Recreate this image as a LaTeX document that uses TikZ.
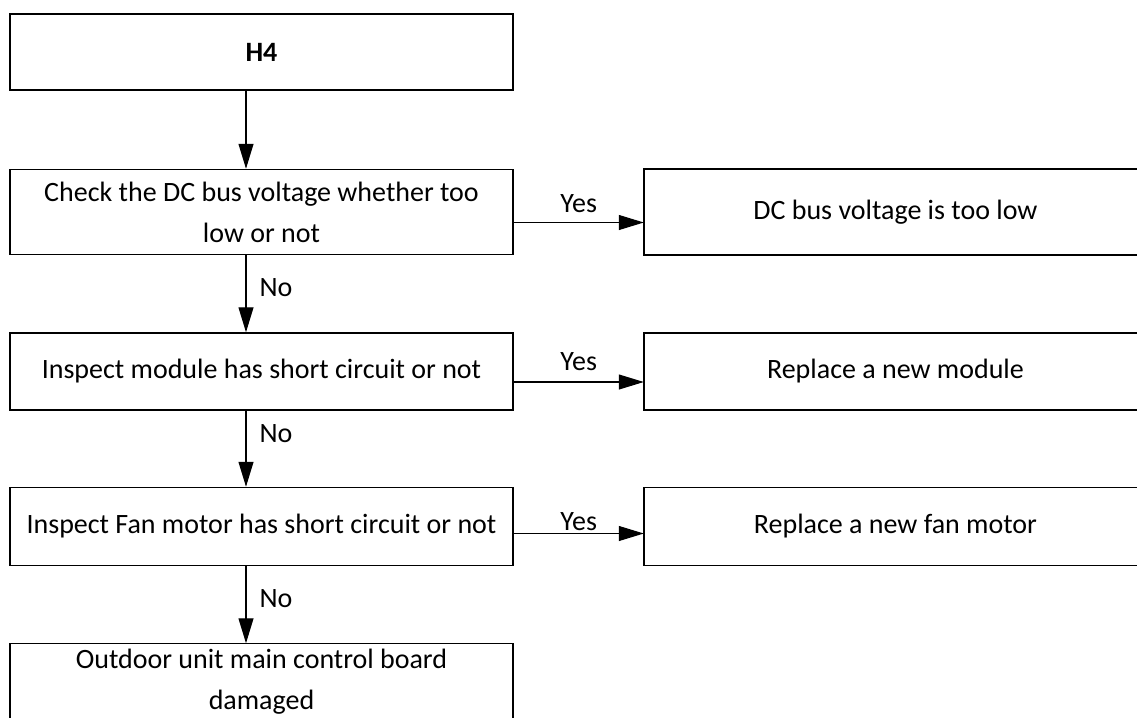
\documentclass[tikz,border=0pt]{standalone}
\usepackage{fontspec}
\setmainfont{Carlito}
\usetikzlibrary{positioning,arrows.meta}

\begin{document}
\begin{tikzpicture}[
	x=1pt, y=-1pt,
	node distance=77pt and 130pt,
	every node/.style={font=\fontsize{28}{41}\selectfont, inner sep=0pt},
	box/.style={draw, line width=1.5pt, minimum width=503pt, align=center},
	obox/.style={minimum width=503pt, align=center},
	arrow/.style={-{Triangle[length=25pt,width=15pt]}, line width=1.1pt},
	lbl/.style={inner sep=0pt}
	]
	\useasboundingbox (0,0) rectangle (1137,717);
	\clip (0,0) rectangle (1137,717);
	
	\node[box, minimum height=76pt] (H4) at (261.5,52) {\textbf{H4}};
	\node[box, minimum height=85pt, below=78pt of H4] (B2) {Check the DC bus voltage whether too\\low or not};
	\node[box, minimum height=77pt, below=of B2] (B3) {Inspect module has short circuit or not};
	\node[box, minimum height=78pt, below=76pt of B3] (B4) {Inspect Fan motor has short circuit or not};
	\node[obox, minimum height=76pt, below=of B4] (B5) {Outdoor unit main control board\\damaged};
	
	\node[obox, minimum height=86pt, right=of B2] (R1) {DC bus voltage is too low};
	\node[obox, minimum height=77pt, right=of B3] (R2) {Replace a new module};
	\node[obox, minimum height=78pt, right=of B4] (R3) {Replace a new fan motor};
	
	% open boxes, cut by the page edge
	\foreach \r in {R1,R2,R3}
		\draw[line width=1.5pt] ([xshift=40pt]\r.north east) -- (\r.north west) -- (\r.south west) -- ([xshift=40pt]\r.south east);
	\draw[line width=1.5pt] ([yshift=-20pt]B5.south west) -- (B5.north west) -- (B5.north east) -- ([yshift=-20pt]B5.south east);
	
	% down the left column
	\draw[arrow] ([xshift=-15.5pt]H4.south) -- ([xshift=-15.5pt]B2.north);
	\draw[arrow] ([xshift=-15.5pt]B2.south) -- node[lbl, pos=0.42, right=13pt] {No} ([xshift=-15.5pt]B3.north);
	\draw[arrow] ([xshift=-15.5pt]B3.south) -- node[lbl, pos=0.30, right=13pt] {No} ([xshift=-15.5pt]B4.north);
	\draw[arrow] ([xshift=-15.5pt]B4.south) -- node[lbl, pos=0.42, right=13pt] {No} ([xshift=-15.5pt]B5.north);
	
	% yes branches
	\draw[arrow] ([yshift=-10.5pt]B2.east) -- node[lbl, above=9pt] {Yes} ([yshift=-10.5pt]B2.east -| R1.west);
	\draw[arrow] ([yshift=-10.5pt]B3.east) -- node[lbl, above=11pt] {Yes} ([yshift=-10.5pt]B3.east -| R2.west);
	\draw[arrow] ([yshift=-7pt]B4.east) -- node[lbl, above=2pt] {Yes} ([yshift=-7pt]B4.east -| R3.west);
	
\end{tikzpicture}
\end{document}
